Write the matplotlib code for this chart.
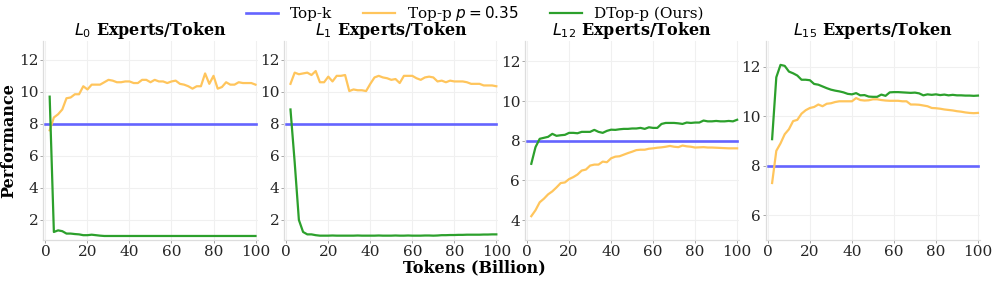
import numpy as np
import matplotlib
matplotlib.use('Agg')
import matplotlib.pyplot as plt
from matplotlib.ticker import MultipleLocator

plt.rcParams['font.family'] = 'DejaVu Serif'
plt.rcParams['mathtext.fontset'] = 'dejavusans'

# 数据（横轴：训练 token 数，单位十亿）
tokens = np.arange(2, 101, 2)
topk_value = 8

titles = ['$L_0$ Experts/Token', '$L_1$ Experts/Token',
          '$L_{12}$ Experts/Token', '$L_{15}$ Experts/Token']

topp_l0 = [7.6, 8.4, 8.6, 8.9, 9.6, 9.65, 9.85, 9.85, 10.35, 10.15,
           10.45, 10.45, 10.45, 10.6, 10.75, 10.7, 10.6, 10.6, 10.65, 10.65,
           10.55, 10.55, 10.75, 10.75, 10.6, 10.75, 10.65, 10.65, 10.55, 10.65,
           10.7, 10.5, 10.45, 10.35, 10.2, 10.35, 10.35, 11.15, 10.5, 11.0,
           10.2, 10.3, 10.6, 10.45, 10.45, 10.6, 10.55, 10.55, 10.55, 10.45]
dtop_l0 = [9.7, 1.25, 1.35, 1.3, 1.15, 1.15, 1.12, 1.1, 1.05, 1.05,
           1.08, 1.05, 1.02, 1.0, 1.0, 1.0, 1.0, 1.0, 1.0, 1.0,
           1.0, 1.0, 1.0, 1.0, 1.0, 1.0, 1.0, 1.0, 1.0, 1.0,
           1.0, 1.0, 1.0, 1.0, 1.0, 1.0, 1.0, 1.0, 1.0, 1.0,
           1.0, 1.0, 1.0, 1.0, 1.0, 1.0, 1.0, 1.0, 1.0, 1.0]

topp_l1 = [10.5, 11.2, 11.1, 11.15, 11.2, 11.05, 11.3, 10.6, 10.6, 10.95,
           10.65, 11.0, 11.0, 11.05, 10.05, 10.15, 10.1, 10.1, 10.05, 10.5,
           10.9, 11.0, 10.9, 10.85, 10.75, 10.8, 10.55, 11.0, 11.0, 11.0,
           10.85, 10.75, 10.9, 10.95, 10.9, 10.65, 10.7, 10.6, 10.7, 10.65,
           10.65, 10.65, 10.6, 10.5, 10.5, 10.5, 10.4, 10.4, 10.4, 10.35]
dtop_l1 = [8.9, 5.6, 2.0, 1.25, 1.1, 1.1, 1.05, 1.02, 1.02, 1.02,
           1.03, 1.02, 1.02, 1.02, 1.02, 1.02, 1.03, 1.02, 1.02, 1.02,
           1.02, 1.03, 1.02, 1.02, 1.02, 1.03, 1.02, 1.02, 1.03, 1.02,
           1.02, 1.02, 1.03, 1.03, 1.02, 1.03, 1.05, 1.05, 1.06, 1.06,
           1.07, 1.07, 1.08, 1.08, 1.08, 1.08, 1.09, 1.09, 1.1, 1.1]

topp_l12 = [4.2, 4.5, 4.9, 5.08, 5.3, 5.45, 5.65, 5.87, 5.9, 6.07,
            6.17, 6.3, 6.5, 6.55, 6.75, 6.8, 6.8, 6.95, 6.92, 7.12,
            7.2, 7.22, 7.3, 7.38, 7.45, 7.53, 7.55, 7.55, 7.6, 7.62,
            7.65, 7.67, 7.7, 7.74, 7.7, 7.68, 7.76, 7.72, 7.7, 7.66,
            7.67, 7.68, 7.66, 7.66, 7.65, 7.64, 7.63, 7.62, 7.62, 7.62]
dtop_l12 = [6.84, 7.68, 8.1, 8.15, 8.2, 8.35, 8.25, 8.28, 8.3, 8.4,
            8.4, 8.38, 8.45, 8.45, 8.45, 8.55, 8.45, 8.4, 8.5, 8.56,
            8.55, 8.58, 8.6, 8.6, 8.62, 8.62, 8.65, 8.6, 8.68, 8.65,
            8.65, 8.85, 8.9, 8.9, 8.9, 8.88, 8.85, 8.92, 8.9, 8.92,
            8.92, 9.02, 8.98, 8.98, 9.0, 8.98, 8.98, 9.0, 8.98, 9.06]

topp_l15 = [7.3, 8.6, 8.9, 9.27, 9.47, 9.8, 9.85, 10.1, 10.24, 10.33,
            10.37, 10.47, 10.4, 10.5, 10.52, 10.57, 10.6, 10.6, 10.6, 10.6,
            10.73, 10.65, 10.63, 10.64, 10.68, 10.68, 10.65, 10.63, 10.62, 10.62,
            10.62, 10.6, 10.6, 10.47, 10.47, 10.46, 10.43, 10.4, 10.33, 10.32,
            10.3, 10.27, 10.25, 10.23, 10.2, 10.18, 10.15, 10.13, 10.12, 10.13]
dtop_l15 = [9.07, 11.57, 12.07, 12.03, 11.8, 11.73, 11.64, 11.47, 11.47, 11.45,
            11.3, 11.27, 11.2, 11.13, 11.07, 11.03, 11.0, 10.96, 10.9, 10.88,
            10.93, 10.84, 10.85, 10.79, 10.78, 10.78, 10.87, 10.82, 10.96, 10.97,
            10.97, 10.96, 10.95, 10.94, 10.95, 10.92, 10.84, 10.88, 10.86, 10.88,
            10.85, 10.87, 10.84, 10.86, 10.84, 10.84, 10.83, 10.83, 10.82, 10.83]

topp_all = [topp_l0, topp_l1, topp_l12, topp_l15]
dtop_all = [dtop_l0, dtop_l1, dtop_l12, dtop_l15]
ylims = [(0.75, 13.2), (0.75, 13.2), (3.0, 13.05), (5.0, 13.05)]

c_topk = '#6464ff'
c_topp = '#ffc55c'
c_dtop = '#2ca02c'

fig, axes = plt.subplots(1, 4, figsize=(9.97, 2.82), dpi=100)
fig.subplots_adjust(left=0.0435, right=0.983, bottom=0.149, top=0.856, wspace=0.124)

for i, ax in enumerate(axes):
    l1, = ax.plot([0, 100], [topk_value, topk_value], color=c_topk, lw=1.9, label='Top-k')
    l2, = ax.plot(tokens, topp_all[i], color=c_topp, lw=1.6, label='Top-p $p=0.35$')
    l3, = ax.plot(tokens, dtop_all[i], color=c_dtop, lw=1.6, label='DTop-p (Ours)')
    ax.set_xlim(-1, 101)
    ax.set_ylim(*ylims[i])
    ax.xaxis.set_major_locator(MultipleLocator(20))
    ax.yaxis.set_major_locator(MultipleLocator(2))
    ax.grid(True, color='#f0f0f0', lw=0.8)
    ax.set_axisbelow(True)
    for s in ['top', 'right']:
        ax.spines[s].set_visible(False)
    for s in ['left', 'bottom']:
        ax.spines[s].set_color('#dddddd')
        ax.spines[s].set_linewidth(0.9)
    ax.tick_params(labelsize=11, length=2, width=0.6, pad=1.5,
                   color='#999999', labelcolor='#262626')
    ax.set_title(titles[i], fontsize=11.5, fontweight='bold', pad=1.5)

axes[0].set_ylabel('Performance', fontsize=11.5, fontweight='bold', labelpad=1)
fig.text(0.476, 0.02, 'Tokens (Billion)', ha='center', va='bottom',
         fontsize=11.5, fontweight='bold')

fig.legend(handles=[l1, l2, l3], loc='upper center', bbox_to_anchor=(0.476, 1.035),
           ncol=3, frameon=False, fontsize=11, handlelength=2.1, columnspacing=2.0,
           handletextpad=0.8)

fig.savefig('out.png', dpi=100)
